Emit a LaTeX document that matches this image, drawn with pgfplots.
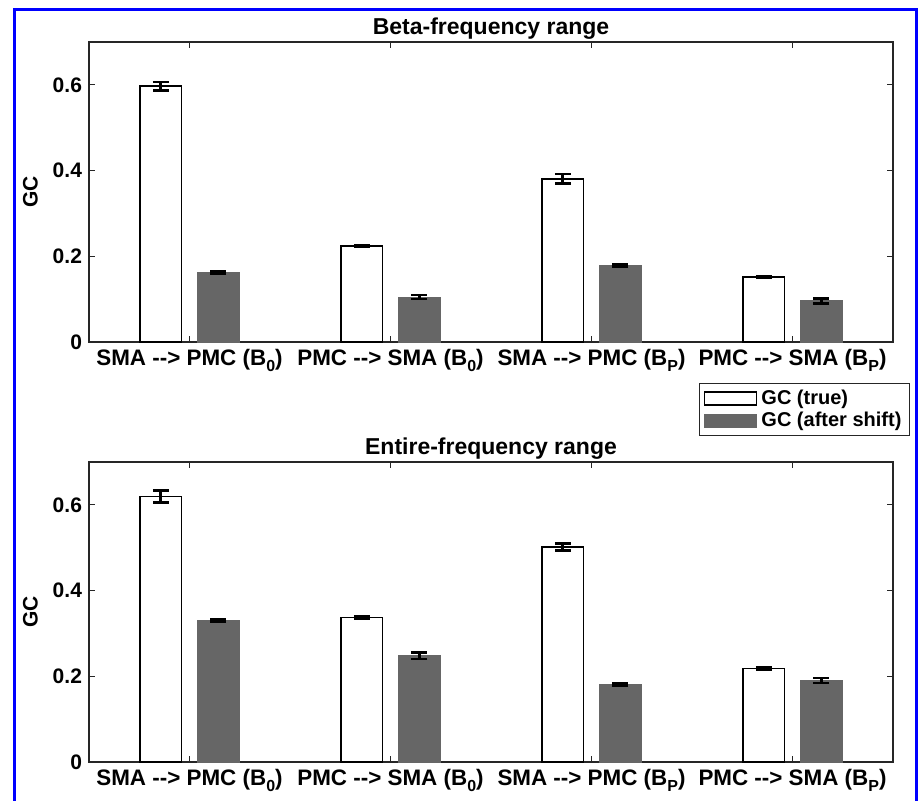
\documentclass[border=0pt]{standalone}
\usepackage{pgfplots}
\pgfplotsset{compat=1.18}
\usepackage{fontspec}
\setmainfont{Liberation Sans}

% arrow written so that -- does not become a dash
\newcommand\arr{\mbox{-}\mbox{-}\mbox{>}}
\newcommand\sub[1]{\raisebox{-0.55ex}{\fontsize{8}{8}\selectfont #1}}

\definecolor{shiftgray}{RGB}{102,102,102}

\pgfplotsset{
  gcpanel/.style={
    scale only axis,
    width=402pt, height=150pt,
    ybar,
    bar width=0.207,
    xmin=0.5, xmax=4.5,
    ymin=0, ymax=0.7,
    xtick={1,2,3,4},
    xticklabels={SMA \arr{} PMC (B\sub{0}),
                 PMC \arr{} SMA (B\sub{0}),
                 SMA \arr{} PMC (B\sub{P}),
                 PMC \arr{} SMA (B\sub{P})},
    ytick={0,0.2,0.4,0.6},
    yticklabels={0,0.2,0.4,0.6},
    tick align=inside,
    major tick length=3pt,
    axis line style={black!85, line width=0.8pt},
    tick style={black!85, line width=0.6pt},
    yticklabel style={font=\fontsize{10.5}{12}\selectfont\bfseries},
    xticklabel style={font=\fontsize{11.2}{12}\selectfont\bfseries},
    ylabel={GC},
    ylabel style={at={(axis description cs:-0.073,0.5)}, anchor=center,
                  font=\fontsize{10.5}{12}\selectfont\bfseries},
    title style={font=\fontsize{11.5}{13}\selectfont\bfseries, yshift=-8pt},
    legend image code/.code={\draw[##1] (0pt,-3.25pt) rectangle (26pt,3.25pt);},
    error bars/error bar style={line width=1.3pt, black},
    error bars/error mark options={rotate=90, mark size=4pt, line width=1.3pt, black},
  },
  truebar/.style={draw=black, fill=white, line width=0.8pt, bar shift=-0.143,
    error bars/.cd, y dir=both, y explicit},
  shiftbar/.style={draw=shiftgray, fill=shiftgray, line width=0.4pt, bar shift=0.143,
    error bars/.cd, y dir=both, y explicit},
}

\pgfplotstableread{
x t te s se
1 0.597 0.010 0.163 0.003
2 0.224 0.002 0.105 0.005
3 0.381 0.011 0.179 0.003
4 0.152 0.002 0.096 0.006
}\betadata

\pgfplotstableread{
x t te s se
1 0.620 0.014 0.330 0.003
2 0.337 0.003 0.248 0.008
3 0.502 0.008 0.181 0.003
4 0.218 0.003 0.190 0.006
}\entiredata

\begin{document}
\begin{tikzpicture}
\useasboundingbox (0,0) rectangle (459.5pt,-400pt);

\begin{axis}[gcpanel,
  at={(44.5pt,-171pt)}, anchor=south west,
  title={Beta-frequency range},
  legend style={at={(rel axis cs:0.759,-0.137)}, anchor=north west,
    font=\fontsize{10}{10.5}\selectfont\bfseries,
    draw=black!85, line width=0.6pt,
    inner xsep=2pt, inner ysep=1pt, row sep=-1.5pt,
    cells={anchor=west}},
]
\addplot[truebar] table[x=x, y=t, y error=te] {\betadata};
\addplot[shiftbar] table[x=x, y=s, y error=se] {\betadata};
\legend{GC (true), GC (after shift)}
\end{axis}

\begin{axis}[gcpanel,
  at={(44.5pt,-381pt)}, anchor=south west,
  title={Entire-frequency range},
]
\addplot[truebar] table[x=x, y=t, y error=te] {\entiredata};
\addplot[shiftbar] table[x=x, y=s, y error=se] {\entiredata};
\end{axis}

% blue frame round the figure
\draw[blue, line width=1.5pt] (7.25pt,-410pt) -- (7.25pt,-4.75pt) -- (458pt,-4.75pt) -- (458pt,-410pt);
\end{tikzpicture}
\end{document}
